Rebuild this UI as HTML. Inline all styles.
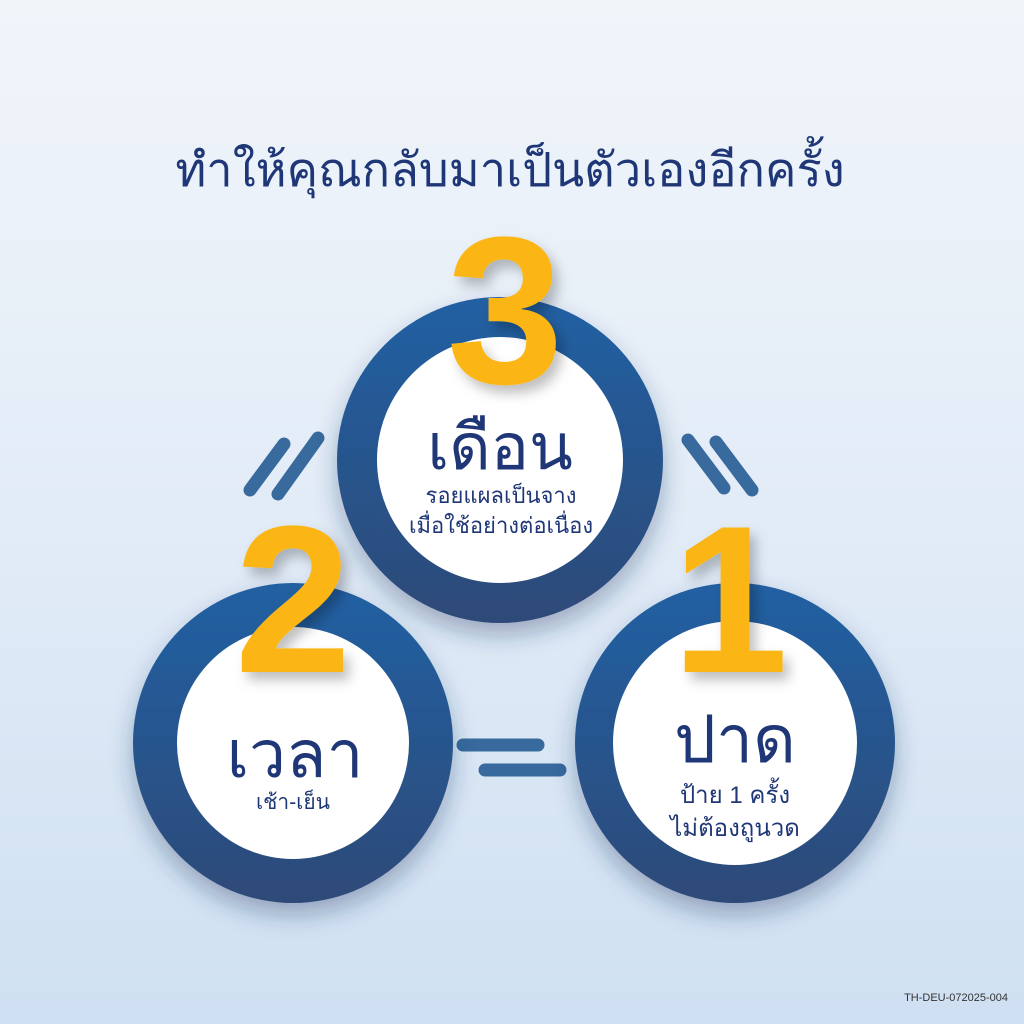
<!DOCTYPE html>
<html><head><meta charset="utf-8"><style>
html,body{margin:0;padding:0}
body{width:1024px;height:1024px;overflow:hidden;position:relative;background:linear-gradient(180deg,#f1f5fa 0%,#e2ecf7 50%,#cfe0f2 100%);font-family:"Liberation Sans","Noto Sans CJK SC",sans-serif;}
.t{position:absolute;left:0;width:1024px;text-align:center;color:#1f3777;white-space:nowrap}
</style></head><body>
<svg width="1024" height="1024" style="position:absolute;left:0;top:0">
<defs>
<linearGradient id="rg" x1="0" y1="0" x2="0" y2="1"><stop offset="0" stop-color="#2160a3"/><stop offset="1" stop-color="#2e4a78"/></linearGradient>
<filter id="sh" x="-30%" y="-30%" width="160%" height="160%"><feDropShadow dx="0" dy="12" stdDeviation="12" flood-color="#20385f" flood-opacity="0.35"/></filter>
<filter id="sh2" x="-30%" y="-30%" width="160%" height="160%"><feDropShadow dx="6" dy="8" stdDeviation="6" flood-color="#000" flood-opacity="0.25"/></filter>
</defs>
<g stroke="#386a9e" stroke-width="13" stroke-linecap="round">
<line x1="250" y1="490" x2="284" y2="444"/><line x1="278" y1="494" x2="318" y2="438"/>
<line x1="688" y1="440" x2="724" y2="488"/><line x1="716" y1="442" x2="752" y2="490"/>
<line x1="463" y1="745" x2="538" y2="745"/><line x1="485" y1="770" x2="560" y2="770"/>
</g>
<g filter="url(#sh)">
<circle cx="500" cy="460" r="163" fill="url(#rg)"/>
<circle cx="293" cy="743" r="160" fill="url(#rg)"/>
<circle cx="735" cy="743" r="160" fill="url(#rg)"/>
</g>
<circle cx="500" cy="460" r="123" fill="#fff"/>
<circle cx="293" cy="743" r="116" fill="#fff"/>
<circle cx="735" cy="743" r="122" fill="#fff"/>
<g fill="#fbb617" font-family="Liberation Sans" font-weight="bold" font-size="210" text-anchor="middle" filter="url(#sh2)">
<text x="505" y="383">3</text>
<text x="293" y="672">2</text>
<text x="730" y="672">1</text>
</g>
</svg>
<div class="t" style="top:132px;font-size:47px;left:-2px">ทำให้คุณกลับมาเป็นตัวเองอีกครั้ง</div>
<div class="t" style="top:396px;font-size:64px;left:0;width:1000px">เดือน</div>
<div class="t" style="top:478px;font-size:22px;width:1002px">รอยแผลเป็นจาง</div>
<div class="t" style="top:508px;font-size:22px;width:1002px">เมื่อใช้อย่างต่อเนื่อง</div>
<div class="t" style="top:702px;font-size:66px;width:590px">เวลา</div>
<div class="t" style="top:786px;font-size:21px;width:586px">เช้า-เย็น</div>
<div class="t" style="top:687px;font-size:66px;left:225px;width:1020px">ปาด</div>
<div class="t" style="top:775px;font-size:24px;left:225px;width:1020px">ป้าย 1 ครั้ง</div>
<div class="t" style="top:808px;font-size:24px;left:225px;width:1020px">ไม่ต้องถูนวด</div>
<div style="position:absolute;right:16px;top:992px;font-size:11px;color:#333">TH-DEU-072025-004</div>
</body></html>
